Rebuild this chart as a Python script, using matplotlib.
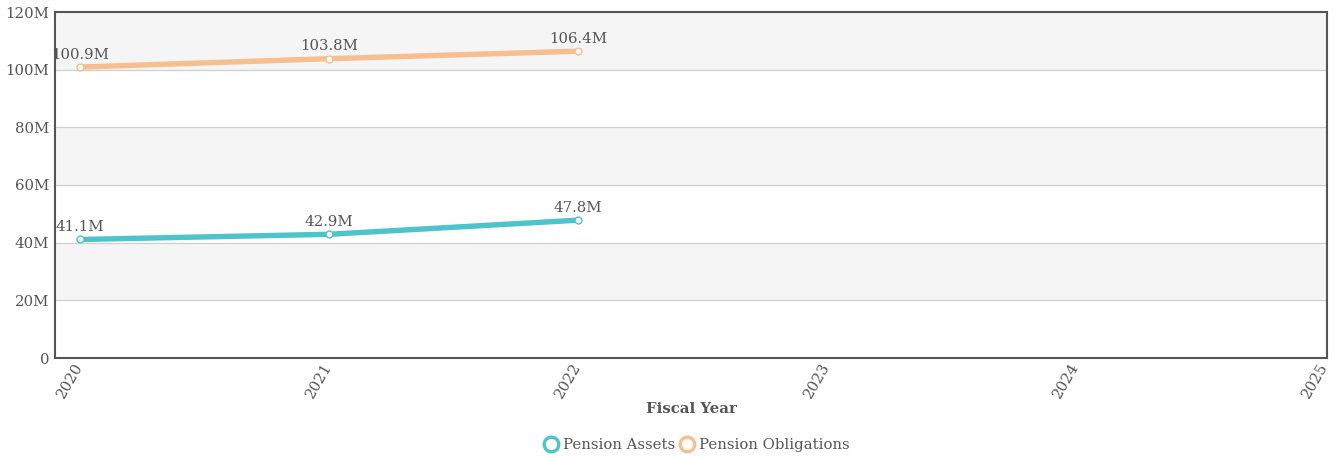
import matplotlib
matplotlib.use("Agg")
import matplotlib.pyplot as plt
from matplotlib.lines import Line2D

years = [2020, 2021, 2022]
assets = [41.1, 42.9, 47.8]
obligations = [100.9, 103.8, 106.4]
xticks = [2020, 2021, 2022, 2023, 2024, 2025]
yticks = [0, 20, 40, 60, 80, 100, 120]
ytick_labels = ["0", "20M", "40M", "60M", "80M", "100M", "120M"]

teal = "#4fc3cc"
orange = "#f5bf8f"
txt = "#555555"
fs = 10.7

plt.rcParams['font.family'] = ['DejaVu Serif']
fig = plt.figure(figsize=(13.41, 4.59), dpi=100)
ax = fig.add_axes([55/1341, 1-358/459, (1327-55)/1341, (358-12)/459])

# bands
for i, (lo, hi) in enumerate(zip(yticks[:-1], yticks[1:])):
    if i % 2 == 1:
        ax.axhspan(lo, hi, color="#f5f5f5", zorder=0, lw=0)
for y in yticks[1:-1]:
    ax.axhline(y, color="#cfcfcf", lw=0.9, zorder=1)

for vals, col in [(assets, teal), (obligations, orange)]:
    ax.plot(years, vals, color=col, lw=3.9, zorder=3, solid_capstyle='round')
    ax.plot(years, vals, ls='none', marker='o', ms=5, mfc='white', mec=col, mew=1.0, zorder=4)
    for x, v in zip(years, vals):
        ax.annotate(f"{v}M", (x, v), xytext=(0, 4), textcoords='offset points',
                    ha='center', va='bottom', fontsize=fs, color=txt, zorder=5)

ax.set_xlim(2019.9, 2025.008)
ax.set_ylim(0, 120)
ax.set_xticks(xticks)
ax.set_xticklabels([str(x) for x in xticks], rotation=60, ha='right', va='center',
                   rotation_mode='anchor', fontsize=fs, color=txt)
ax.set_yticks(yticks)
ax.set_yticklabels(ytick_labels, fontsize=fs, color=txt)
ax.tick_params(axis='x', length=0, pad=4)
ax.tick_params(axis='y', length=0, pad=4)
for s in ax.spines.values():
    s.set_color("#555555")
    s.set_linewidth(1.5)
ax.set_xlabel("Fiscal Year", fontsize=fs, fontweight='bold', color=txt, labelpad=1)

handles = [Line2D([], [], ls='none', marker='o', ms=10.5, mfc='white', mec=teal, mew=2.4),
           Line2D([], [], ls='none', marker='o', ms=10.5, mfc='white', mec=orange, mew=2.4)]
leg = fig.legend(handles, ["Pension Assets", "Pension Obligations"], loc='center',
                 bbox_to_anchor=(0.5197, 1-445/459), ncol=2, frameon=False, fontsize=fs,
                 handletextpad=0.3, columnspacing=0.3, handlelength=1.0)
for t in leg.get_texts():
    t.set_color(txt)

fig.savefig("out.png", dpi=100)
